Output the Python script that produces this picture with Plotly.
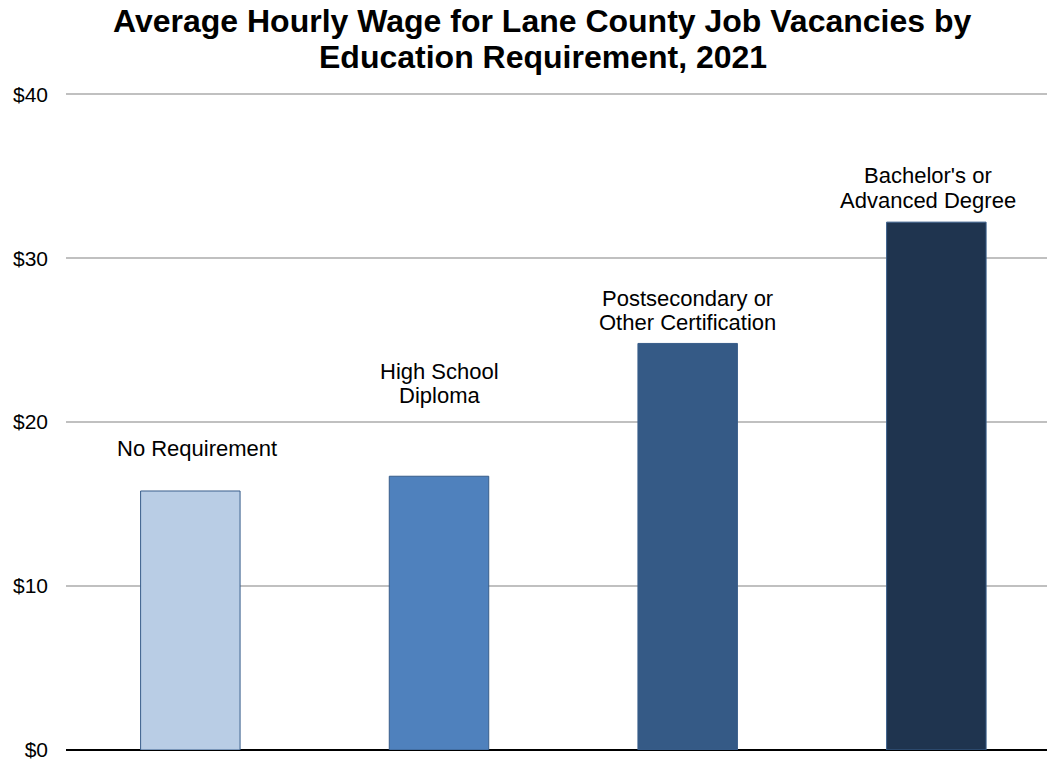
import plotly.graph_objects as go

categories = ["No Requirement", "High School<br>Diploma", "Postsecondary or<br>Other Certification", "Bachelor's or<br>Advanced Degree"]
wages = [15.8, 16.7, 24.8, 32.2]
colors = ["#b9cde5", "#4f81bd", "#355a86", "#1f344f"]
# label line centre positions (y data units), bottom line of each label
label_y = [18.4, 21.6, 26.05, 33.52]
label_xshift = [7, 0, 0, -8]
tick_vals = [0, 10, 20, 30, 40]
tick_text = ["$0", "$10", "$20", "$30", "$40"]
title_lines = ["Average Hourly Wage for Lane County Job Vacancies by", "Education Requirement, 2021"]

FONT = "Liberation Sans, Arial, sans-serif"
LINE_STEP = 1.5  # data units between label lines (~25 px)

fig = go.Figure()
fig.add_trace(go.Bar(
    x=list(range(len(categories))), y=wages,
    marker=dict(color=colors, line=dict(color="#385d8a", width=1)),
    width=0.4, hoverinfo="y",
))

for i, (c, ly, xs) in enumerate(zip(categories, label_y, label_xshift)):
    lines = c.split("<br>")
    n = len(lines)
    for k, line in enumerate(lines):
        fig.add_annotation(x=i, y=ly + (n - 1 - k) * LINE_STEP, text=line, showarrow=False,
                           xref="x", yref="y", xshift=xs,
                           font=dict(family=FONT, size=22, color="#000000"),
                           xanchor="center", yanchor="middle", align="center")

for k, (t, ys) in enumerate(zip(title_lines, [70, 34])):
    fig.add_annotation(x=0.486, y=1, xref="paper", yref="paper", text="<b>" + t + "</b>",
                       showarrow=False, xanchor="center", yanchor="middle", yshift=ys,
                       font=dict(family=FONT, size=32, color="#000000"))

fig.update_layout(
    width=1047, height=761,
    paper_bgcolor="white", plot_bgcolor="white",
    margin=dict(l=66, r=0, t=91, b=9),
    showlegend=False,
    font=dict(family=FONT, size=21, color="#000000"),
    xaxis=dict(range=[-0.5, 3.445], showticklabels=False, showgrid=False, zeroline=False,
               showline=False, fixedrange=True),
    yaxis=dict(range=[0, 40.2], tickvals=tick_vals, ticktext=tick_text, showgrid=True,
               gridcolor="#c0c0c0", gridwidth=2, zeroline=True, zerolinecolor="#000000",
               zerolinewidth=2, ticks="", ticklabelstandoff=17, ticklabeloverflow="allow",
               tickfont=dict(family=FONT, size=21, color="#000000")),
)

fig.write_html("out.html", config={"displayModeBar": False},
               post_script="document.body.style.margin='0';document.body.style.overflow='hidden';")
